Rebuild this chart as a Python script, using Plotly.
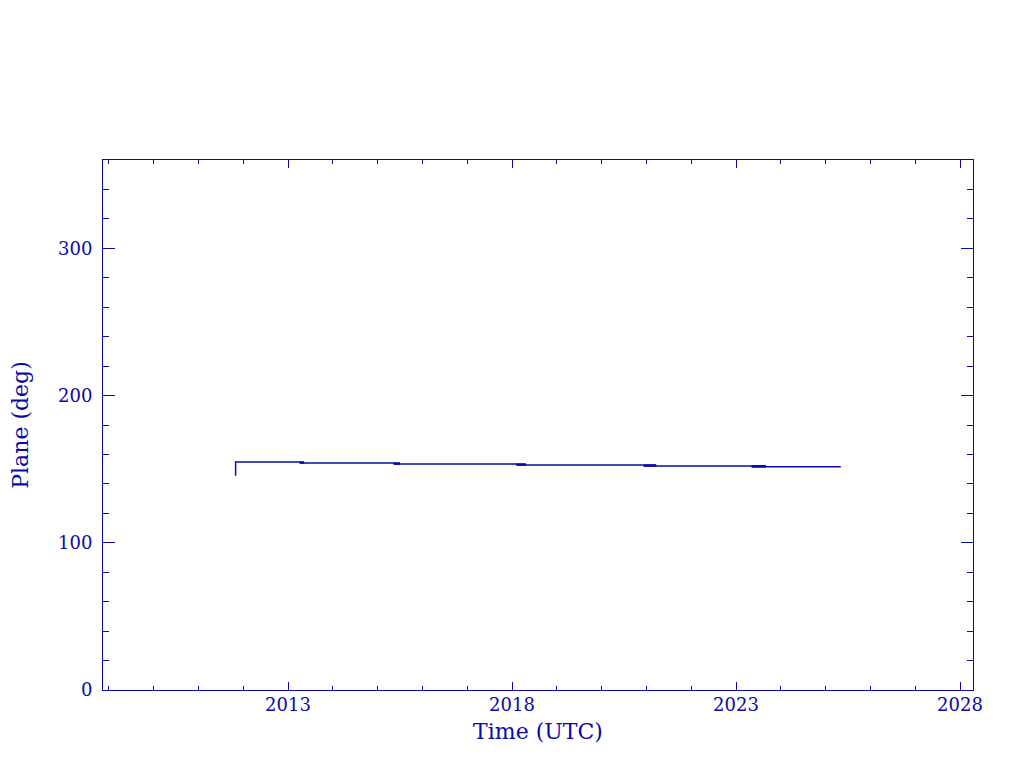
import plotly.graph_objects as go

# Data (decimal years, plane angle in degrees)
time_years = [2011.83, 2011.83, 2013.27, 2015.37, 2018.11, 2020.95, 2023.36, 2025.34]
plane_deg = [145.6, 154.9, 154.2, 153.5, 152.9, 152.2, 151.7, 151.7]

# short transition intervals where the curve jitters between two levels
trans_start = [2013.27, 2015.37, 2018.11, 2020.95, 2023.36]
trans_end = [2013.36, 2015.50, 2018.31, 2021.22, 2023.67]
trans_level = [154.55, 153.85, 153.2, 152.55, 151.95]

x_tick_vals = [2013, 2018, 2023, 2028]
x_tick_text = ["2013", "2018", "2023", "2028"]
y_tick_vals = [0, 100, 200, 300]
y_tick_text = ["0", "100", "200", "300"]

BLUE = "#0a0aa8"
FONT = "DejaVu Serif"
XR = [2008.87, 2028.29]
YR = [0, 360]

fig = go.Figure()
fig.add_trace(go.Scatter(x=time_years, y=plane_deg, mode="lines",
                         line=dict(color=BLUE, width=1.5, shape="hv"),
                         showlegend=False, hoverinfo="skip"))

tx, ty = [], []
for s, e, v in zip(trans_start, trans_end, trans_level):
    tx += [s, e, None]
    ty += [v, v, None]
fig.add_trace(go.Scatter(x=tx, y=ty, mode="lines", line=dict(color=BLUE, width=2.6),
                         showlegend=False, hoverinfo="skip"))

common = dict(showgrid=False, zeroline=False, showline=True, linecolor=BLUE,
              linewidth=1, ticks="inside", tickcolor=BLUE, tickwidth=1, automargin=False)

fig.update_layout(
    width=1016, height=760,
    paper_bgcolor="white", plot_bgcolor="white",
    margin=dict(l=95, r=51, t=152, b=78),
    font=dict(family=FONT, color=BLUE, size=18),
    xaxis=dict(range=XR, tickvals=x_tick_vals, ticktext=x_tick_text, ticklen=8,
               ticklabelstandoff=-2,
               minor=dict(dtick=1, tick0=2013, ticklen=4, ticks="inside", tickcolor=BLUE, showgrid=False),
               title=dict(text="Time (UTC)", font=dict(size=22, family=FONT, color=BLUE), standoff=10),
               tickfont=dict(size=18, family=FONT, color=BLUE), **common),
    yaxis=dict(range=YR, tickvals=y_tick_vals, ticktext=y_tick_text, ticklen=12,
               ticklabelstandoff=6,
               minor=dict(dtick=20, tick0=0, ticklen=6, ticks="inside", tickcolor=BLUE, showgrid=False),
               title=dict(text="Plane (deg)", font=dict(size=22, family=FONT, color=BLUE), standoff=38),
               tickfont=dict(size=18, family=FONT, color=BLUE), **common),
    xaxis2=dict(range=XR, overlaying="x", side="top", anchor="y", tickvals=x_tick_vals,
                ticklen=8, showticklabels=False,
                minor=dict(dtick=1, tick0=2013, ticklen=4, ticks="inside", tickcolor=BLUE, showgrid=False),
                **common),
    yaxis2=dict(range=YR, overlaying="y", side="right", anchor="x", tickvals=y_tick_vals,
                ticklen=12, showticklabels=False,
                minor=dict(dtick=20, tick0=0, ticklen=6, ticks="inside", tickcolor=BLUE, showgrid=False),
                **common),
)
# invisible trace to activate the mirror axes
fig.add_trace(go.Scatter(x=[XR[0]], y=[YR[0]], xaxis="x2", yaxis="y2", mode="markers",
                         marker=dict(opacity=0), showlegend=False, hoverinfo="skip"))

fig.write_html("out.html")
